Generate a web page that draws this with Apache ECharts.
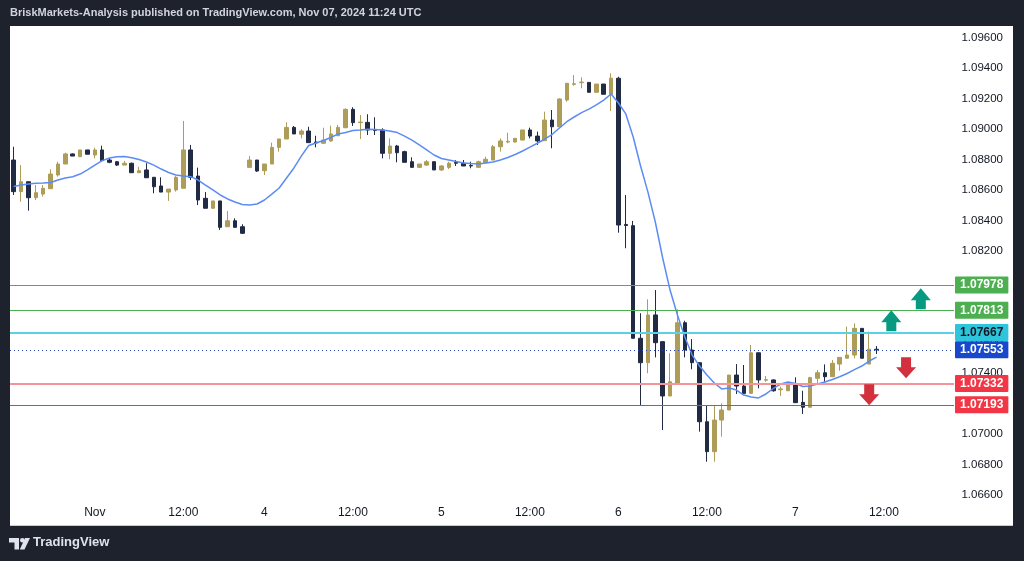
<!DOCTYPE html>
<html>
<head>
<meta charset="utf-8">
<script src="https://cdn.jsdelivr.net/npm/echarts@6/dist/echarts.min.js"></script>
<style>
html,body{margin:0;padding:0;background:#1e222d;width:1024px;height:561px;overflow:hidden;}
#panel{position:absolute;left:10px;top:26px;width:1003px;height:499px;background:#ffffff;border-bottom:1px solid #c9ccd3;}
#chart{position:absolute;left:0;top:0;width:1024px;height:561px;}
</style>
</head>
<body>
<div id="panel"></div>
<div id="chart"></div>
<script>
const sessions = [
  ['2024-10-31', 13, 23],
  ['2024-11-01', 0, 20],
  ['2024-11-03', 22, 23],
  ['2024-11-04', 0, 23],
  ['2024-11-05', 0, 23],
  ['2024-11-06', 0, 23],
  ['2024-11-07', 0, 21]
];
const tickTimes = ['2024-11-01 00:00','2024-11-01 12:00','2024-11-04 00:00','2024-11-04 12:00','2024-11-05 00:00','2024-11-05 12:00','2024-11-06 00:00','2024-11-06 12:00','2024-11-07 00:00','2024-11-07 12:00'];
const tickTexts = ['Nov','12:00','4','12:00','5','12:00','6','12:00','7','12:00'];

const opens = [1.08797,1.08590,1.08655,1.08550,1.08574,1.08609,1.08699,1.08771,1.08837,1.08819,1.08863,1.08830,1.08863,1.08797,1.08786,1.08764,1.08776,1.08714,1.08732,1.08684,1.08627,1.08587,1.08601,1.08612,1.08863,1.08692,1.08546,1.08481,1.08529,1.08360,1.08399,1.08360,
1.08749,1.08797,1.08727,1.08771,1.08880,1.08935,1.09011,1.08966,1.08987,1.08915,1.08907,1.08922,1.08956,1.09009,1.09129,1.09042,1.09044,1.08997,1.08994,1.08841,1.08889,1.08852,1.08786,1.08749,1.08764,1.08786,1.08732,1.08749,1.08782,1.08776,1.08762,1.08749,1.08780,1.08797,1.08884,1.08915,1.08915,1.08928,1.08994,1.08954,1.08924,1.09059,1.09015,1.09190,1.09293,1.09304,1.09306,1.09241,1.09295,1.09228,
1.09333,1.08375,1.08367,1.07629,1.07469,1.07782,1.07607,1.07251,1.07329,1.07731,1.07552,1.07469,1.07082,1.06886,1.07093,1.07159,1.07388,1.07316,1.07268,1.07534,1.07354,1.07356,1.07292,1.07285,1.07323,1.07209,1.07177,1.07367,1.07403,1.07377,1.07460,1.07498,1.07519,1.07694,1.07460,1.07557];
const closes = [1.08590,1.08655,1.08550,1.08583,1.08612,1.08705,1.08771,1.08837,1.08823,1.08863,1.08835,1.08863,1.08793,1.08782,1.08764,1.08776,1.08714,1.08727,1.08681,1.08622,1.08587,1.08607,1.08684,1.08863,1.08684,1.08535,1.08481,1.08529,1.08356,1.08399,1.08356,1.08317,
1.08797,1.08725,1.08771,1.08880,1.08935,1.09011,1.08968,1.08987,1.08911,1.08909,1.08928,1.08968,1.09011,1.09129,1.09042,1.09046,1.08994,1.08991,1.08841,1.08889,1.08845,1.08782,1.08749,1.08771,1.08786,1.08732,1.08758,1.08776,1.08776,1.08758,1.08758,1.08786,1.08802,1.08884,1.08922,1.08920,1.08939,1.08994,1.08954,1.08922,1.09059,1.09015,1.09197,1.09300,1.09297,1.09308,1.09241,1.09295,1.09228,1.09333,
1.08371,1.08368,1.07629,1.07469,1.07782,1.07600,1.07251,1.07344,1.07731,1.07552,1.07469,1.07082,1.06886,1.07093,1.07159,1.07388,1.07316,1.07268,1.07534,1.07356,1.07358,1.07285,1.07297,1.07323,1.07207,1.07177,1.07371,1.07403,1.07377,1.07465,1.07504,1.07519,1.07694,1.07498,1.07557,1.07553];
const lows = [1.08568,1.08524,1.08465,1.08535,1.08557,1.08609,1.08688,1.08771,1.08823,1.08819,1.08835,1.08808,1.08793,1.08776,1.08758,1.08764,1.08714,1.08714,1.08681,1.08579,1.08587,1.08529,1.08590,1.08612,1.08666,1.08502,1.08481,1.08476,1.08339,1.08360,1.08356,1.08312,
1.08749,1.08720,1.08699,1.08771,1.08852,1.08935,1.08968,1.08939,1.08911,1.08880,1.08902,1.08917,1.08956,1.09005,1.09020,1.08935,1.08961,1.08961,1.08808,1.08802,1.08782,1.08782,1.08749,1.08745,1.08758,1.08732,1.08725,1.08738,1.08758,1.08758,1.08743,1.08749,1.08780,1.08797,1.08852,1.08907,1.08911,1.08928,1.08939,1.08896,1.08924,1.08874,1.09015,1.09179,1.09284,1.09267,1.09241,1.09241,1.09228,1.09118,
1.08321,1.08219,1.07628,1.07192,1.07400,1.07504,1.07028,1.07251,1.07323,1.07504,1.07426,1.07017,1.06820,1.06820,1.06984,1.07159,1.07264,1.07268,1.07264,1.07301,1.07344,1.07279,1.07251,1.07285,1.07207,1.07133,1.07177,1.07323,1.07344,1.07377,1.07416,1.07498,1.07498,1.07498,1.07460,1.07526];
const highs = [1.08884,1.08764,1.08655,1.08633,1.08633,1.08736,1.08786,1.08845,1.08841,1.08863,1.08863,1.08878,1.08891,1.08808,1.08791,1.08791,1.08780,1.08753,1.08776,1.08684,1.08684,1.08607,1.08692,1.09053,1.08896,1.08747,1.08587,1.08529,1.08529,1.08463,1.08415,1.08376,
1.08823,1.08797,1.08771,1.08911,1.08935,1.09044,1.09020,1.08998,1.09015,1.08956,1.09009,1.09022,1.09027,1.09136,1.09143,1.09092,1.09097,1.09077,1.09005,1.08939,1.08896,1.08858,1.08815,1.08771,1.08797,1.08786,1.08764,1.08786,1.08797,1.08797,1.08786,1.08793,1.08819,1.08896,1.08939,1.08976,1.08941,1.08994,1.09009,1.08983,1.09114,1.09125,1.09202,1.09300,1.09354,1.09339,1.09306,1.09295,1.09295,1.09365,
1.09343,1.08568,1.08398,1.07793,1.07884,1.07945,1.07607,1.07531,1.07819,1.07744,1.07624,1.07469,1.07185,1.07192,1.07203,1.07388,1.07460,1.07454,1.07585,1.07534,1.07382,1.07360,1.07312,1.07344,1.07373,1.07285,1.07377,1.07421,1.07458,1.07487,1.07504,1.07705,1.07727,1.07694,1.07672,1.07578];
const maValues = [1.08624,1.08633,1.08640,1.08645,1.08647,1.08650,1.08666,1.08679,1.08688,1.08705,1.08732,1.08764,1.08793,1.08810,1.08819,1.08820,1.08812,1.08800,1.08784,1.08764,1.08738,1.08715,1.08699,1.08692,1.08688,1.08666,1.08633,1.08601,1.08568,1.08542,1.08522,1.08506,
1.08502,1.08509,1.08535,1.08574,1.08614,1.08679,1.08745,1.08823,1.08892,1.08909,1.08925,1.08945,1.08968,1.08977,1.08991,1.08994,1.08998,1.08997,1.08994,1.08987,1.08977,1.08954,1.08928,1.08896,1.08863,1.08830,1.08807,1.08797,1.08787,1.08778,1.08774,1.08771,1.08778,1.08784,1.08797,1.08814,1.08833,1.08856,1.08882,1.08907,1.08935,1.08964,1.09007,1.09048,1.09079,1.09108,1.09131,1.09158,1.09190,1.09230,
1.09171,1.09099,1.08948,1.08758,1.08587,1.08391,1.08155,1.07945,1.07782,1.07637,1.07519,1.07447,1.07388,1.07336,1.07297,1.07303,1.07290,1.07257,1.07244,1.07238,1.07264,1.07300,1.07329,1.07342,1.07333,1.07313,1.07316,1.07329,1.07342,1.07359,1.07377,1.07398,1.07424,1.07447,1.07480,1.07506];

const levelPrices = [1.07978, 1.07813, 1.07667, 1.07553, 1.07332, 1.07193];
const arrowUpTimes = ['2024-11-07 17:00', '2024-11-07 13:00'];
const arrowUpPrices = [1.07888, 1.07744];
const arrowDownTimes = ['2024-11-07 15:00', '2024-11-07 10:00'];
const arrowDownPrices = [1.07436, 1.07259];

const categories = [];
const pad = n => (n < 10 ? '0' : '') + n;
sessions.forEach(([d, a, b]) => { for (let h = a; h <= b; h++) categories.push(d + ' ' + pad(h) + ':00'); });
const candleData = opens.map((o, i) => [o, closes[i], lows[i], highs[i]]);

const levelStyles = [
  {color:'#4caf50', width:1, type:'solid', bg:'#4caf50', fg:'#ffffff'},
  {color:'#4caf50', width:1, type:'solid', bg:'#4caf50', fg:'#ffffff'},
  {color:'#5ad2e4', width:2, type:'solid', bg:'#2ec5dc', fg:'#131722'},
  {color:'#2b46b8', width:1, type:[1,3], bg:'#1848cc', fg:'#ffffff'},
  {color:'#f5959a', width:2, type:'solid', bg:'#f23645', fg:'#ffffff'},
  {color:'#f23645', width:1, type:'solid', bg:'#f23645', fg:'#ffffff'}
];
const levelSeries = levelPrices.map((v, k) => ({
  type: 'line', name: 'L' + k, data: [], z: 1, silent: true, color: levelStyles[k].color,
  markLine: {
    symbol: ['none','none'], silent: true, animation: false, precision: 5,
    lineStyle: {color: levelStyles[k].color, width: levelStyles[k].width, type: levelStyles[k].type, opacity: 1},
    label: {
      show: true, position: 'end', distance: 1,
      formatter: () => v.toFixed(5),
      backgroundColor: levelStyles[k].bg, color: levelStyles[k].fg,
      fontSize: 12, fontWeight: 'bold', fontFamily: 'Liberation Sans, Arial, sans-serif',
      padding: [2, 5, 1, 5], lineHeight: 14, borderRadius: 1
    },
    data: [{yAxis: v}]
  }
}));
const upPath = 'path://M10,0L20,12L15,12L15,21L5,21L5,12L0,12Z';
const downPath = 'path://M5,0L15,0L15,10L20,10L10,21L0,10L5,10Z';
const markPointData = [];
arrowUpTimes.forEach((t, k) => markPointData.push({coord:[t, arrowUpPrices[k]], symbol: upPath, symbolSize:[20,21], itemStyle:{color:'#089981'}}));
arrowDownTimes.forEach((t, k) => markPointData.push({coord:[t, arrowDownPrices[k]], symbol: downPath, symbolSize:[20,21], itemStyle:{color:'#d3303d'}}));

const chart = echarts.init(document.getElementById('chart'), null, {renderer:'canvas'});
const option = {
  animation: false,
  backgroundColor: 'transparent',
  textStyle: {fontFamily: 'Liberation Sans, Arial, sans-serif'},
  grid: {left: 10, right: 70, top: 37.5, bottom: 65.7},
  xAxis: {
    type: 'category', data: categories, boundaryGap: true,
    axisLine: {show: false}, axisTick: {show: false}, splitLine: {show: false},
    axisLabel: {
      interval: (i, v) => tickTimes.indexOf(v) >= 0,
      formatter: v => { const k = tickTimes.indexOf(v); return k >= 0 ? tickTexts[k] : ''; },
      color: '#131722', fontSize: 12, margin: 11
    }
  },
  yAxis: {
    type: 'value', position: 'right', min: 1.066, max: 1.096, interval: 0.002,
    axisLine: {show: false}, axisTick: {show: false}, splitLine: {show: false},
    axisLabel: {formatter: v => v.toFixed(5), align: 'right', margin: 49, color: '#131722', fontSize: 11.5}
  },
  graphic: [
    {type:'text', left: 10, top: 7, style:{text:'BriskMarkets-Analysis published on TradingView.com, Nov 07, 2024 11:24 UTC', fill:'#d1d4dc', font:'bold 11px "Liberation Sans", Arial, sans-serif'}},
    {type:'polygon', shape:{points:[[9,538],[19,538],[19,549.5],[14.5,549.5],[14.5,542.5],[9,542.5]]}, style:{fill:'#e0e3eb'}},
    {type:'circle', shape:{cx:22.3, cy:540.3, r:2.3}, style:{fill:'#e0e3eb'}},
    {type:'polygon', shape:{points:[[25,538],[30,538],[24.5,549.5],[19.8,549.5]]}, style:{fill:'#e0e3eb'}},
    {type:'text', left: 33, top: 536, style:{text:'TradingView', fill:'#e0e3eb', font:'bold 13px "Liberation Sans", Arial, sans-serif'}}
  ],
  series: levelSeries.concat([
    {
      type: 'candlestick', name: 'EURUSD', data: candleData, barWidth: 4, z: 2,
      itemStyle: {color: '#ad9d58', color0: '#212b44', borderColor: '#ad9d58', borderColor0: '#212b44', borderWidth: 1}
    },
    {
      type: 'line', name: 'MA', data: maValues, showSymbol: false, symbol: 'none', z: 3,
      lineStyle: {color: '#5b8cf5', width: 1.5},
      markPoint: {silent: true, animation: false, label: {show: false}, data: markPointData}
    }
  ])
};
chart.setOption(option);
</script>
</body>
</html>
